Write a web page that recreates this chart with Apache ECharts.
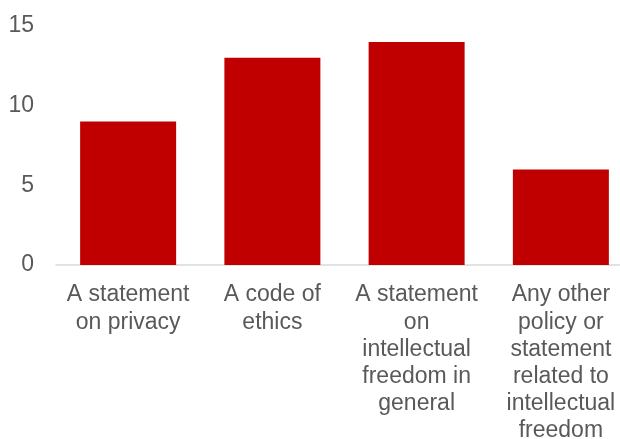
<!DOCTYPE html>
<html>
<head>
<meta charset="utf-8">
<script src="https://cdn.jsdelivr.net/npm/echarts@6/dist/echarts.min.js"></script>
<style>html,body{margin:0;padding:0;background:#fff}#c{width:620px;height:439px}</style>
</head>
<body>
<div id="c"></div>
<script>
var categories = [
  "A statement\non privacy",
  "A code of\nethics",
  "A statement\non\nintellectual\nfreedom in\ngeneral",
  "Any other\npolicy or\nstatement\nrelated to\nintellectual\nfreedom"
];
var values = [9, 13, 14, 6];
var yTicks = [0, 5, 10, 15];

var chart = echarts.init(document.getElementById('c'), null, {renderer: 'canvas'});
chart.setOption({
  animation: false,
  grid: {left: 56, top: 26, right: -13, height: 239, containLabel: false, outerBoundsMode: 'none'},
  xAxis: {
    type: 'category',
    data: categories,
    axisLine: {show: true, lineStyle: {color: '#D9D9D9', width: 1.5}},
    axisTick: {show: false},
    axisLabel: {
      interval: 0,
      color: '#595959',
      fontFamily: 'Liberation Sans, Arial, sans-serif',
      fontSize: 23,
      lineHeight: 27.2,
      margin: 16.5,
      align: 'center'
    }
  },
  yAxis: {
    type: 'value',
    min: yTicks[0],
    max: yTicks[yTicks.length - 1],
    interval: 5,
    splitLine: {show: false},
    axisLine: {show: false},
    axisTick: {show: false},
    axisLabel: {
      color: '#595959',
      fontFamily: 'Liberation Sans, Arial, sans-serif',
      fontSize: 23,
      margin: 22
    }
  },
  series: [{
    type: 'bar',
    data: values,
    barWidth: 96,
    itemStyle: {color: '#C00000'}
  }]
});
</script>
</body>
</html>
